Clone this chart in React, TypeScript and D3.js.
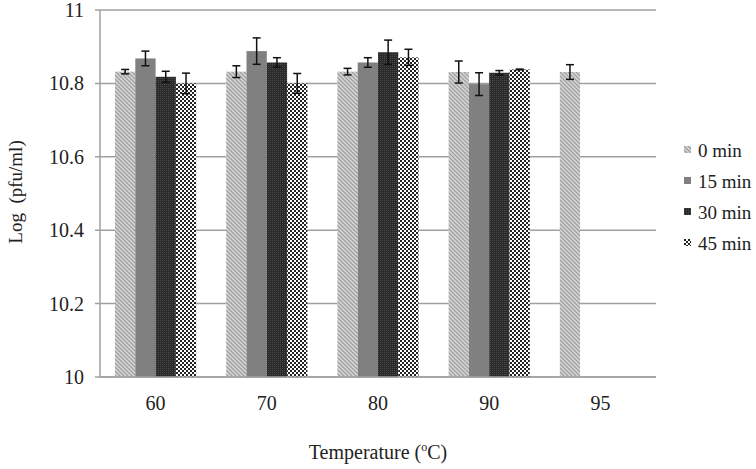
import React from "react";
import * as d3 from "d3";

const categories = ["60", "70", "80", "90", "95"];
const seriesNames = ["0 min", "15 min", "30 min", "45 min"];
const values0 = [10.832, 10.832, 10.832, 10.831, 10.831];
const errors0 = [0.006, 0.016, 0.009, 0.03, 0.02];
const values15 = [10.868, 10.888, 10.857, 10.798, null];
const errors15 = [0.02, 0.036, 0.013, 0.031, null];
const values30 = [10.818, 10.857, 10.885, 10.829, null];
const errors30 = [0.015, 0.013, 0.033, 0.006, null];
const values45 = [10.8, 10.8, 10.871, 10.838, null];
const errors45 = [0.028, 0.027, 0.022, 0.001, null];
const yTicks = [10, 10.2, 10.4, 10.6, 10.8, 11];

const seriesValues = [values0, values15, values30, values45];
const seriesErrors = [errors0, errors15, errors30, errors45];
const fills = ["url(#p0)", "#808080", "url(#p2)", "url(#p3)"];

export default function App() {
  const W = 756, H = 469;
  const left = 100, right = 656, top = 10, bottom = 377;
  const x = d3.scaleBand<string>().domain(categories).range([left, right]).paddingInner(0.27).paddingOuter(0.135);
  const y = d3.scaleLinear().domain([10, 11]).range([bottom, top]);
  const xs = d3.scaleBand<string>().domain(seriesNames).range([0, x.bandwidth()]);
  const ff = { fontFamily: "'Liberation Serif', 'DejaVu Serif', serif" };
  const grid = "#a0a0a0";

  return (
    <svg width={W} height={H} style={{ position: "absolute", left: 0, top: 0, background: "#fff", ...ff }}>
      <defs>
        <pattern id="p0" width="4" height="4" patternUnits="userSpaceOnUse">
          <rect width="4" height="4" fill="#d4d4d4" />
          <path d="M-1,-1 L5,5 M-1,3 L1,5 M3,-1 L5,1" stroke="#9a9a9a" strokeWidth="1.2" />
        </pattern>
        <pattern id="p2" width="2" height="2" patternUnits="userSpaceOnUse">
          <rect width="2" height="2" fill="#2a2a2a" />
          <rect width="1" height="1" fill="#4a4a4a" />
        </pattern>
        <pattern id="p3" width="4" height="4" patternUnits="userSpaceOnUse">
          <rect width="4" height="4" fill="#ffffff" />
          <rect x="0" y="0" width="2" height="2" fill="#222" />
          <rect x="2" y="2" width="2" height="2" fill="#222" />
        </pattern>
      </defs>

      {yTicks.map((t) => (
        <g key={t}>
          <line x1={95} x2={right} y1={y(t)} y2={y(t)} stroke={grid} strokeWidth={1.5} />
          <text x={84} y={y(t)} dy="0.35em" textAnchor="end" fontSize={20} fill="#222" style={ff}>{t}</text>
        </g>
      ))}
      <line x1={left} x2={left} y1={top} y2={bottom} stroke={grid} strokeWidth={1.5} />

      {seriesValues.map((vals, si) =>
        categories.map((c, ci) => {
          const v = vals[ci];
          if (v == null) return null;
          const bx = (x(c) as number) + (xs(seriesNames[si]) as number);
          const bw = xs.bandwidth();
          const e = seriesErrors[si][ci] as number;
          const cx = bx + bw / 2;
          return (
            <g key={si + "-" + ci}>
              <rect x={bx} y={y(v)} width={bw} height={bottom - y(v)} fill={fills[si]} />
              <line x1={cx} x2={cx} y1={y(v + e)} y2={y(v - e)} stroke="#111" strokeWidth={1.5} />
              <line x1={cx - 4} x2={cx + 4} y1={y(v + e)} y2={y(v + e)} stroke="#111" strokeWidth={1.5} />
              <line x1={cx - 4} x2={cx + 4} y1={y(v - e)} y2={y(v - e)} stroke="#111" strokeWidth={1.5} />
            </g>
          );
        })
      )}
      <line x1={left} x2={right} y1={bottom} y2={bottom} stroke={grid} strokeWidth={1.5} />

      {categories.map((c) => (
        <text key={c} x={(x(c) as number) + x.bandwidth() / 2} y={410} textAnchor="middle" fontSize={20} fill="#222" style={ff}>{c}</text>
      ))}

      <text transform={`translate(22,192) rotate(-90)`} textAnchor="middle" fontSize={19} fill="#222" style={ff}>{"Log\u00a0 (pfu/ml)"}</text>
      <text x={378} y={459} textAnchor="middle" fontSize={20} fill="#222" style={ff}>
        Temperature (<tspan fontSize={12} dy={-8}>o</tspan><tspan dy={8}>C)</tspan>
      </text>

      {seriesNames.map((s, i) => (
        <g key={s} transform={`translate(684, ${150 + i * 31})`}>
          <rect x={0} y={-4} width={7} height={7} fill={fills[i]} />
          <text x={14} y={0} dy="0.35em" fontSize={19} fill="#222" style={ff}>{s}</text>
        </g>
      ))}
    </svg>
  );
}
